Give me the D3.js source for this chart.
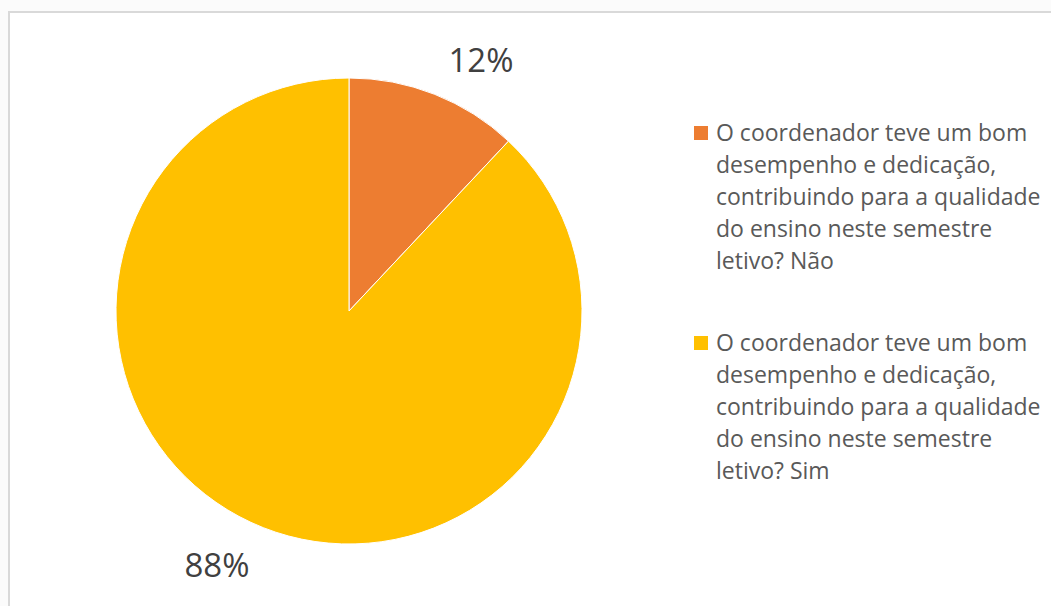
<!DOCTYPE html>
<html>
<head>
<meta charset="utf-8">
<script src="https://cdn.jsdelivr.net/npm/d3@7"></script>
<style>
  body { margin: 0; background: #fbfbfb; }
  svg { display: block; }
  text { font-family: "Open Sans", sans-serif; }
</style>
</head>
<body>
<div id="chart"></div>
<script>
const categories = [
  "O coordenador teve um bom desempenho e dedicação, contribuindo para a qualidade do ensino neste semestre letivo? Não",
  "O coordenador teve um bom desempenho e dedicação, contribuindo para a qualidade do ensino neste semestre letivo? Sim"
];
const values = [12, 88];
const valueLabels = ["12%", "88%"];
const colors = ["#ED7D31", "#FFC000"];
const legendLines = [
  ["O coordenador teve um bom", "desempenho e dedicação,", "contribuindo para a qualidade", "do ensino neste semestre", "letivo? Não"],
  ["O coordenador teve um bom", "desempenho e dedicação,", "contribuindo para a qualidade", "do ensino neste semestre", "letivo? Sim"]
];

const width = 1051;
const height = 606;

const svg = d3.select("#chart")
  .append("svg")
    .attr("width", width)
    .attr("height", height);

// frame
svg.append("rect")
  .attr("x", 9)
  .attr("y", 12)
  .attr("width", width)
  .attr("height", height)
  .style("fill", "#fff")
  .style("stroke", "#d9d9d9")
  .style("stroke-width", 2);

// pie
const cx = 349, cy = 311, radius = 233;
const pie = d3.pie().sort(null).value(d => d);
const arcs = pie(values);
const arc = d3.arc().innerRadius(0).outerRadius(radius);

const g = svg.append("g")
  .attr("transform", `translate(${cx},${cy})`);

g.selectAll(".slice")
  .data(arcs)
  .enter()
  .append("path")
    .attr("class", "slice")
    .attr("d", arc)
    .style("fill", (d, i) => colors[i])
    .style("stroke", "#fff")
    .style("stroke-width", 1);

// outside labels
const labelPos = [[481, 72], [217, 577]];
g.selectAll(".pct")
  .data(arcs)
  .enter()
  .append("text")
    .attr("class", "pct")
    .attr("x", (d, i) => labelPos[i][0] - cx)
    .attr("y", (d, i) => labelPos[i][1] - cy)
    .attr("text-anchor", "middle")
    .style("font-size", "33px")
    .style("fill", "#404040")
    .text((d, i) => valueLabels[i]);

// legend
const legend = svg.append("g")
  .attr("class", "legend")
  .attr("transform", "translate(694,126)");

const scalePos = d3.scalePoint()
  .domain(categories)
  .range([0, 210]);

const items = legend.selectAll(".item")
  .data(categories)
  .enter()
  .append("g")
    .attr("transform", d => `translate(0,${scalePos(d)})`);

items.append("rect")
  .attr("width", 14)
  .attr("height", 14)
  .style("fill", (d, i) => colors[i]);

items.append("text")
  .attr("x", 22)
  .attr("y", 15)
  .style("font-size", "23px")
  .style("fill", "#595959")
  .selectAll("tspan")
  .data((d, i) => legendLines[i])
  .enter()
  .append("tspan")
    .attr("x", 22)
    .attr("dy", (d, j) => j === 0 ? 0 : 32)
    .text(d => d);
</script>
</body>
</html>
